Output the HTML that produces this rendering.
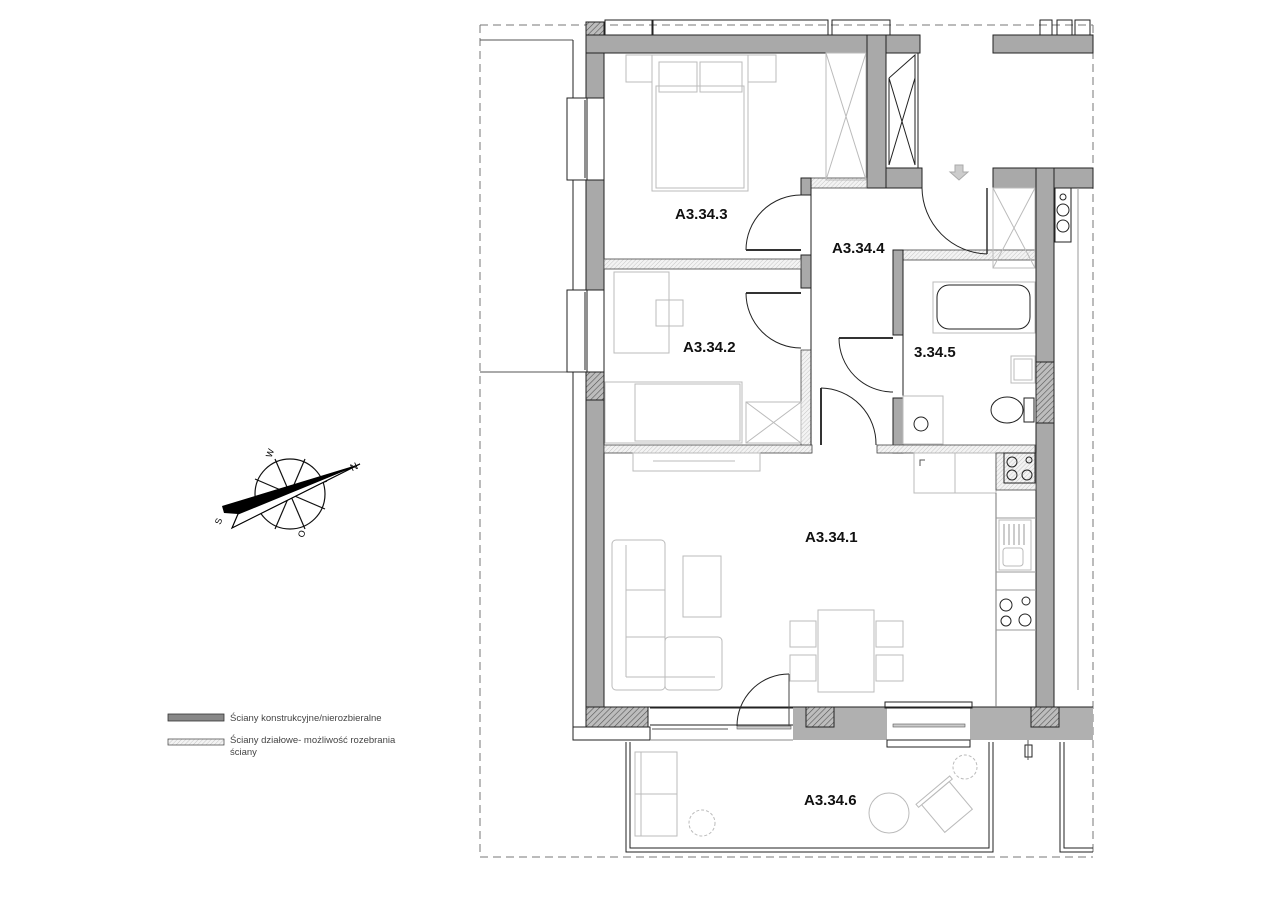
<!DOCTYPE html>
<html><head><meta charset="utf-8"><style>
html,body{margin:0;padding:0;background:#fff;}
svg{display:block;}
.lbl{font-family:"Liberation Sans",sans-serif;font-weight:bold;font-size:15px;fill:#111;}
.leg{font-family:"Liberation Sans",sans-serif;font-size:9.5px;fill:#444;}
.f{fill:none;stroke:#bbb;stroke-width:1;}
.t{fill:none;stroke:#222;stroke-width:1;}
.w{fill:#a9a9a9;stroke:#222;stroke-width:1;}
.h{fill:url(#hatch);stroke:#222;stroke-width:1;}
.p{fill:url(#hatchl);stroke:#444;stroke-width:0.8;}
</style></head><body>
<svg width="1280" height="905" viewBox="0 0 1280 905" xmlns="http://www.w3.org/2000/svg">
<defs>
<pattern id="hatch" width="4" height="4" patternUnits="userSpaceOnUse" patternTransform="rotate(45)">
<rect width="4" height="4" fill="#bdbdbd"/><line x1="0" y1="0" x2="0" y2="4" stroke="#555" stroke-width="1.2"/></pattern>
<pattern id="hatchl" width="3" height="3" patternUnits="userSpaceOnUse" patternTransform="rotate(45)">
<rect width="3" height="3" fill="#f3f3f3"/><line x1="0" y1="0" x2="0" y2="3" stroke="#bbb" stroke-width="0.8"/></pattern>
</defs>

<g stroke="#777" stroke-dasharray="8,5" fill="none" stroke-width="1">
<line x1="480" y1="25" x2="1093" y2="25"/>
<line x1="480" y1="25" x2="480" y2="857"/>
<line x1="480" y1="857" x2="1093" y2="857"/>
<line x1="1093" y1="25" x2="1093" y2="857"/>
</g>
<line x1="480" y1="40" x2="573" y2="40" stroke="#555"/>
<line x1="480" y1="372" x2="573" y2="372" stroke="#555"/>

<g class="t">
<rect x="605" y="20" width="47" height="15"/>
<rect x="653" y="20" width="175" height="15"/>
<rect x="832" y="20" width="58" height="15"/>
<rect x="1040" y="20" width="12" height="15"/>
<rect x="1057" y="20" width="15" height="15"/>
<rect x="1075" y="20" width="15" height="15"/>
</g>

<line x1="573" y1="40" x2="573" y2="740" stroke="#222"/>
<rect class="w" x="586" y="35" width="18" height="672"/>
<rect class="h" x="586" y="22" width="18" height="31"/>
<rect class="h" x="586" y="372" width="18" height="28"/>
<g class="t" fill="#fff">
<rect x="567" y="98" width="20" height="82" fill="#fff"/>
<rect x="587" y="98" width="17" height="82" fill="#fff"/>
<line x1="585" y1="100" x2="585" y2="178"/>
<rect x="567" y="290" width="20" height="82" fill="#fff"/>
<rect x="587" y="290" width="17" height="82" fill="#fff"/>
<line x1="585" y1="292" x2="585" y2="370"/>
</g>

<rect class="w" x="586" y="35" width="334" height="18"/>
<rect class="w" x="993" y="35" width="100" height="18"/>
<rect class="w" x="867" y="35" width="19" height="153"/>
<rect class="w" x="886" y="168" width="36" height="20"/>
<rect class="t" x="886" y="53" width="32" height="115" fill="#fff"/>
<path class="t" d="M889 78 L915 55 L915 165 L889 78 M889 165 L915 78 M889 78 L889 165"/>

<rect class="p" x="801" y="178" width="66" height="10"/>
<rect class="w" x="801" y="178" width="10" height="17"/>
<rect class="w" x="801" y="255" width="10" height="33"/>
<rect class="p" x="801" y="350" width="10" height="103"/>
<rect class="p" x="604" y="259" width="197" height="10"/>
<rect class="p" x="604" y="445" width="208" height="8"/>
<line x1="811" y1="195" x2="811" y2="445" stroke="#222"/>
<rect class="p" x="893" y="250" width="142" height="10"/>
<rect class="w" x="893" y="250" width="10" height="85"/>
<rect class="w" x="893" y="398" width="10" height="55"/>
<rect class="p" x="877" y="445" width="158" height="8"/>
<line x1="903" y1="260" x2="903" y2="445" stroke="#222"/>

<rect class="w" x="993" y="168" width="100" height="20"/>
<rect class="w" x="1036" y="168" width="18" height="539"/>
<rect class="h" x="1036" y="362" width="18" height="61"/>
<line x1="1078" y1="188" x2="1078" y2="690" stroke="#999"/>
<rect class="t" x="1055" y="188" width="16" height="54" fill="#fff"/>
<circle class="t" cx="1063" cy="197" r="3"/>
<circle class="t" cx="1063" cy="210" r="6"/>
<circle class="t" cx="1063" cy="226" r="6"/>
<rect class="f" x="993" y="188" width="42" height="80"/>
<path class="f" d="M993 188 L1035 268 M1035 188 L993 268"/>
<path d="M955 165 L963 165 L963 172 L968 172 L959 180 L950 172 L955 172 Z" fill="#ccc" stroke="#aaa"/>

<rect class="h" x="586" y="707" width="62" height="20"/>
<rect class="t" x="573" y="727" width="77" height="13" fill="#fff"/>
<line x1="650" y1="708" x2="793" y2="708" stroke="#222"/>
<line x1="650" y1="725" x2="793" y2="725" stroke="#222"/>
<line x1="650" y1="740" x2="793" y2="740" stroke="#888"/>
<line x1="652" y1="729" x2="728" y2="729" stroke="#555"/>
<rect x="737" y="726" width="54" height="3" fill="#ccc" stroke="#555" stroke-width="0.6"/>
<rect x="793" y="707" width="94" height="33" fill="#b0b0b0"/>
<rect class="h" x="806" y="707" width="28" height="20"/>
<rect x="970" y="707" width="123" height="33" fill="#b0b0b0"/>
<rect class="h" x="1031" y="707" width="28" height="20"/>
<line x1="604" y1="707" x2="1093" y2="707" stroke="#222"/>
<rect class="t" x="885" y="702" width="87" height="6" fill="#fff"/>
<rect class="t" x="887" y="740" width="83" height="7" fill="#fff"/>
<rect x="893" y="724" width="72" height="3" fill="#ccc" stroke="#555" stroke-width="0.6"/>
<path class="t" d="M789 674 A52 52 0 0 0 737 726" stroke="#444"/>
<line x1="789" y1="674" x2="789" y2="726" stroke="#444"/>

<path d="M626 742 L626 852 L993 852 L993 742" fill="none" stroke="#222" stroke-width="1"/>
<path d="M630 742 L630 848 L989 848 L989 742" fill="none" stroke="#222" stroke-width="1"/>
<path d="M1060 742 L1060 852 L1093 852 M1064 742 L1064 848 L1093 848" fill="none" stroke="#222"/>
<rect class="t" x="1025" y="745" width="7" height="12"/>
<line x1="1028" y1="740" x2="1028" y2="760" stroke="#555"/>
<rect class="f" x="635" y="752" width="42" height="84"/>
<line class="f" x1="635" y1="794" x2="677" y2="794"/>
<line class="f" x1="641" y1="752" x2="641" y2="836"/>
<circle class="f" cx="889" cy="813" r="20"/>
<g transform="rotate(-40 947 807)"><rect class="f" x="929" y="789" width="36" height="36"/><rect class="f" x="925" y="785" width="44" height="4"/></g>
<circle class="f" cx="965" cy="767" r="12" stroke-dasharray="3,2"/>
<circle class="f" cx="702" cy="823" r="13" stroke-dasharray="3,2"/>

<rect class="f" x="626" y="55" width="26" height="27"/>
<rect class="f" x="748" y="55" width="28" height="27"/>
<rect class="f" x="652" y="55" width="96" height="136"/>
<rect class="f" x="656" y="86" width="88" height="102"/>
<rect class="f" x="659" y="62" width="38" height="30"/>
<rect class="f" x="700" y="62" width="42" height="30"/>
<rect class="f" x="826" y="53" width="40" height="127"/>
<path class="f" d="M826 53 L866 180 M866 53 L826 180"/>
<path class="t" d="M801 195 A55 55 0 0 0 746 250" stroke="#444"/>
<line x1="746" y1="250" x2="801" y2="250" stroke="#333" stroke-width="2"/>

<rect class="f" x="614" y="272" width="55" height="81"/>
<rect class="f" x="656" y="300" width="27" height="26"/>
<rect class="f" x="605" y="382" width="137" height="61"/>
<rect class="f" x="635" y="384" width="105" height="57"/>
<rect class="f" x="746" y="402" width="55" height="41"/>
<path class="f" d="M746 402 L801 443 M801 402 L746 443"/>
<line x1="746" y1="293" x2="801" y2="293" stroke="#333" stroke-width="2"/>
<path class="t" d="M746 293 A55 55 0 0 0 801 348" stroke="#444"/>

<line x1="839" y1="338" x2="893" y2="338" stroke="#333" stroke-width="2"/>
<path class="t" d="M839 338 A54 54 0 0 0 893 392" stroke="#444"/>
<line x1="821" y1="388" x2="821" y2="445" stroke="#333" stroke-width="2"/>
<path class="t" d="M821 388 A56 56 0 0 1 876 445" stroke="#444"/>
<path class="t" d="M922 188 A67 67 0 0 0 987 254" stroke="#444"/>
<line x1="987" y1="188" x2="987" y2="254" stroke="#333" stroke-width="1.5"/>

<rect class="f" x="933" y="282" width="102" height="51"/>
<rect class="t" x="937" y="285" width="93" height="44" rx="12" stroke="#777"/>
<rect class="f" x="1011" y="356" width="24" height="27"/>
<rect class="f" x="1014" y="359" width="18" height="21"/>
<ellipse class="t" cx="1007" cy="410" rx="16" ry="13" stroke="#444"/>
<rect class="t" x="1024" y="398" width="10" height="24" stroke="#444"/>
<rect class="f" x="903" y="396" width="40" height="48"/>
<circle class="t" cx="921" cy="424" r="7" stroke="#444"/>

<rect class="f" x="633" y="453" width="127" height="18"/>
<line class="f" x1="653" y1="461" x2="735" y2="461"/>
<rect class="f" x="612" y="540" width="53" height="150" rx="4"/>
<rect class="f" x="665" y="637" width="57" height="53" rx="4"/>
<line class="f" x1="626" y1="590" x2="665" y2="590"/>
<line class="f" x1="626" y1="637" x2="665" y2="637"/>
<line class="f" x1="626" y1="545" x2="626" y2="677"/>
<line class="f" x1="626" y1="677" x2="715" y2="677"/>
<rect class="f" x="683" y="556" width="38" height="61"/>
<rect class="f" x="818" y="610" width="56" height="82"/>
<rect class="f" x="790" y="621" width="26" height="26"/>
<rect class="f" x="790" y="655" width="26" height="26"/>
<rect class="f" x="876" y="621" width="27" height="26"/>
<rect class="f" x="876" y="655" width="27" height="26"/>

<rect class="f" x="914" y="453" width="82" height="40" stroke="#888"/>
<line class="f" x1="955" y1="453" x2="955" y2="493" stroke="#888"/>
<line x1="996" y1="493" x2="996" y2="707" stroke="#777"/>
<line x1="996" y1="518" x2="1036" y2="518" stroke="#999"/>
<line x1="996" y1="572" x2="1036" y2="572" stroke="#999"/>
<line x1="996" y1="590" x2="1036" y2="590" stroke="#999"/>
<line x1="996" y1="630" x2="1036" y2="630" stroke="#999"/>
<rect class="f" x="999" y="520" width="32" height="50" stroke="#888"/>
<rect class="f" x="1003" y="548" width="20" height="18" rx="3" stroke="#888"/>
<g stroke="#999"><line x1="1004" y1="524" x2="1004" y2="545"/><line x1="1009" y1="524" x2="1009" y2="545"/><line x1="1014" y1="524" x2="1014" y2="545"/><line x1="1019" y1="524" x2="1019" y2="545"/><line x1="1024" y1="524" x2="1024" y2="545"/></g>
<circle class="t" cx="1006" cy="605" r="6" stroke="#555"/>
<circle class="t" cx="1026" cy="601" r="4" stroke="#555"/>
<circle class="t" cx="1006" cy="621" r="5" stroke="#555"/>
<circle class="t" cx="1025" cy="620" r="6" stroke="#555"/>
<rect class="p" x="996" y="453" width="40" height="37"/>
<rect class="t" x="1004" y="453" width="31" height="30" fill="#fff"/>
<circle class="t" cx="1012" cy="462" r="5"/><circle class="t" cx="1029" cy="460" r="3"/>
<circle class="t" cx="1012" cy="475" r="5"/><circle class="t" cx="1027" cy="475" r="5"/>
<path d="M920 466 L920 460 L925 460" fill="none" stroke="#555"/>

<text class="lbl" x="675" y="219">A3.34.3</text>
<text class="lbl" x="832" y="253">A3.34.4</text>
<text class="lbl" x="683" y="352">A3.34.2</text>
<text class="lbl" x="914" y="357">3.34.5</text>
<text class="lbl" x="805" y="542">A3.34.1</text>
<text class="lbl" x="804" y="805">A3.34.6</text>

<!-- compass -->
<g stroke="#111" fill="none" stroke-width="1.2">
<circle cx="290" cy="494" r="35"/>
<line x1="275" y1="459" x2="305" y2="529"/>
<line x1="305" y1="459" x2="275" y2="529"/>
<line x1="255" y1="479" x2="325" y2="509"/>
<line x1="253" y1="507" x2="327" y2="481"/>
</g>
<path d="M360 464 L232 528 L238 514 Z" fill="#fff" stroke="#000" stroke-width="1.2"/>
<path d="M222 506 L360 464 L238 514 L224 513 Z" fill="#000"/>
<text x="350" y="470" font-family="Liberation Sans,sans-serif" font-size="10" transform="rotate(-25 354 466)">N</text>
<text x="214" y="524" font-family="Liberation Sans,sans-serif" font-size="9" transform="rotate(-70 218 520)">S</text>
<text x="265" y="457" font-family="Liberation Sans,sans-serif" font-size="9" transform="rotate(-70 269 453)">W</text>
<text x="297" y="537" font-family="Liberation Sans,sans-serif" font-size="9" transform="rotate(-70 301 533)">O</text>

<rect x="168" y="714" width="56" height="7" fill="#888" stroke="#333" stroke-width="0.8"/>
<text class="leg" x="230" y="721">Ściany konstrukcyjne/nierozbieralne</text>
<rect x="168" y="739" width="56" height="6" fill="url(#hatchl)" stroke="#555" stroke-width="0.8"/>
<text class="leg" x="230" y="743">Ściany działowe- możliwość rozebrania</text>
<text class="leg" x="230" y="755">ściany</text>
</svg>
</body></html>
